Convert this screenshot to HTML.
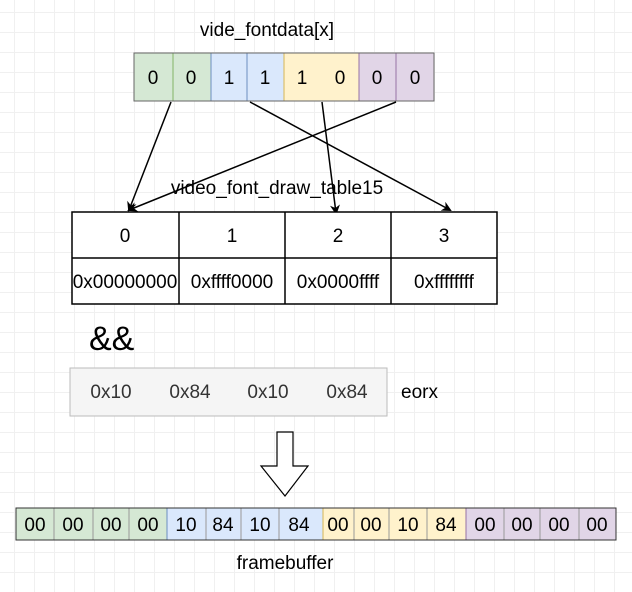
<!DOCTYPE html>
<html><head><style>
body{margin:0;width:632px;height:592px;overflow:hidden;background:#fff;
background-image:linear-gradient(#f0f0f0 1px,transparent 1px),linear-gradient(90deg,#f0f0f0 1px,transparent 1px);background-size:20px 20px;background-position:-6px -8px;}
svg{position:absolute;left:0;top:0}
text{font-family:"Liberation Sans",sans-serif;}
</style></head><body>
<svg width="632" height="592" viewBox="0 0 632 592">
<defs><marker id="a" markerWidth="10" markerHeight="10" refX="8" refY="5" orient="auto" markerUnits="userSpaceOnUse"><path d="M0,0 L10,5 L0,10 L3,5z" fill="#000"/></marker></defs>
<text x="267" y="36" font-size="19" text-anchor="middle">vide_fontdata[x]</text>
<g stroke-width="1">
<rect x="134" y="53" width="77" height="48" fill="#d5e8d4" stroke="#82b366"/>
<rect x="211" y="53" width="73" height="48" fill="#dae8fc" stroke="#6c8ebf"/>
<rect x="284" y="53" width="75" height="48" fill="#fff2cc" stroke="#d6b656"/>
<rect x="359" y="53" width="75" height="48" fill="#e1d5e7" stroke="#9673a6"/>
<line x1="173" y1="53" x2="173" y2="101" stroke="#82b366"/>
<line x1="247" y1="53" x2="247" y2="101" stroke="#6c8ebf"/>
<line x1="396" y1="53" x2="396" y2="101" stroke="#9673a6"/>
<rect x="134" y="53" width="300" height="48" fill="none" stroke="#666"/>
</g>
<g font-size="19" text-anchor="middle">
<text x="153" y="84">0</text><text x="191" y="84">0</text><text x="229" y="84">1</text><text x="265" y="84">1</text><text x="302" y="84">1</text><text x="340" y="84">0</text><text x="377" y="84">0</text><text x="415" y="84">0</text>
</g>
<g stroke="#000" stroke-width="1.5" marker-end="url(#a)">
<line x1="171" y1="102" x2="129" y2="210"/>
<line x1="250" y1="102" x2="450" y2="210"/>
<line x1="322" y1="102" x2="336" y2="213"/>
<line x1="396" y1="102" x2="129" y2="210"/>
</g>
<text x="277" y="194" font-size="19" text-anchor="middle">video_font_draw_table15</text>
<g fill="none" stroke="#000" stroke-width="1.5">
<rect x="72" y="212" width="425" height="92" fill="#fff"/>
<line x1="72" y1="258" x2="497" y2="258"/>
<line x1="179" y1="212" x2="179" y2="304"/><line x1="285" y1="212" x2="285" y2="304"/><line x1="391" y1="212" x2="391" y2="304"/>
</g>
<g font-size="19" text-anchor="middle">
<text x="125" y="242">0</text><text x="232" y="242">1</text><text x="338" y="242">2</text><text x="444" y="242">3</text>
<text x="125" y="288">0x00000000</text><text x="232" y="288">0xffff0000</text><text x="338" y="288">0x0000ffff</text><text x="444" y="288">0xffffffff</text>
</g>
<text x="89" y="350" font-size="34">&amp;&amp;</text>
<rect x="70" y="368" width="317" height="48" fill="#f5f5f5" stroke="#bbb"/>
<g font-size="19" text-anchor="middle" fill="#333">
<text x="111" y="398">0x10</text><text x="190" y="398">0x84</text><text x="268" y="398">0x10</text><text x="347" y="398">0x84</text>
</g>
<text x="401" y="398" font-size="19">eorx</text>
<path d="M277,432 H293 V466 H308 L285,496 L261,466 H277 Z" fill="#fff" stroke="#000" stroke-width="1.2"/>
<g stroke-width="1">
<rect x="16" y="508" width="151" height="32" fill="#d5e8d4" stroke="#82b366"/>
<rect x="167" y="508" width="156" height="32" fill="#dae8fc" stroke="#6c8ebf"/>
<rect x="323" y="508" width="143" height="32" fill="#fff2cc" stroke="#d6b656"/>
<rect x="466" y="508" width="150" height="32" fill="#e1d5e7" stroke="#9673a6"/>
<g stroke="#999"><line x1="54" y1="508" x2="54" y2="540"/><line x1="93" y1="508" x2="93" y2="540"/><line x1="129" y1="508" x2="129" y2="540"/>
<line x1="206" y1="508" x2="206" y2="540"/><line x1="241" y1="508" x2="241" y2="540"/><line x1="279" y1="508" x2="279" y2="540"/>
<line x1="354" y1="508" x2="354" y2="540"/><line x1="389" y1="508" x2="389" y2="540"/><line x1="427" y1="508" x2="427" y2="540"/>
<line x1="504" y1="508" x2="504" y2="540"/><line x1="540" y1="508" x2="540" y2="540"/><line x1="579" y1="508" x2="579" y2="540"/></g>
<rect x="16" y="508" width="600" height="32" fill="none" stroke="#333"/>
</g>
<g font-size="19" text-anchor="middle">
<text x="35" y="531">00</text><text x="73" y="531">00</text><text x="111" y="531">00</text><text x="148" y="531">00</text>
<text x="186" y="531">10</text><text x="223" y="531">84</text><text x="260" y="531">10</text><text x="299" y="531">84</text>
<text x="338" y="531">00</text><text x="371" y="531">00</text><text x="408" y="531">10</text><text x="446" y="531">84</text>
<text x="485" y="531">00</text><text x="522" y="531">00</text><text x="559" y="531">00</text><text x="597" y="531">00</text>
</g>
<text x="285" y="569" font-size="19" text-anchor="middle">framebuffer</text>
</svg>
</body></html>
